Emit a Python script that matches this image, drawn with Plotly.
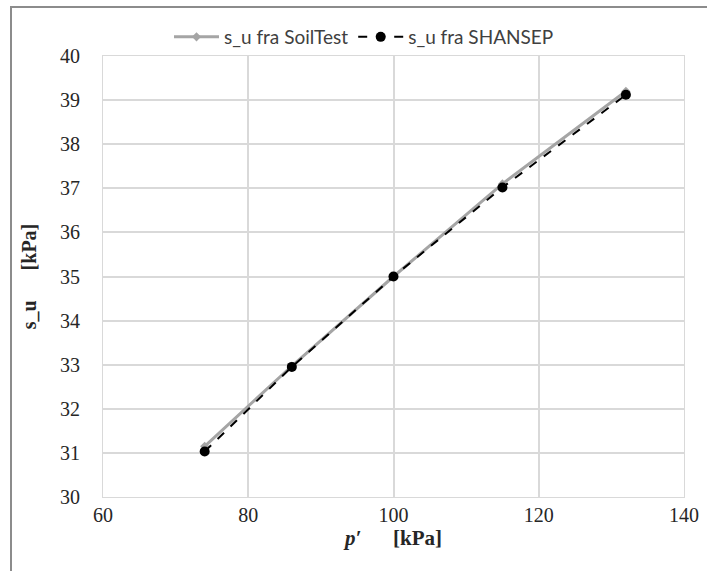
import plotly.graph_objects as go

p_prime = [74, 86, 100, 115, 132]
su_soiltest = [31.15, 32.97, 35.0, 37.1, 39.2]
su_shansep = [31.03, 32.95, 35.0, 37.02, 39.12]

x_ticks = [60, 80, 100, 120, 140]
y_ticks = list(range(30, 41))

fig = go.Figure()
fig.add_trace(go.Scatter(
    x=p_prime, y=su_soiltest, mode="lines+markers", name="s_u fra SoilTest",
    line=dict(color="#a5a5a5", width=3),
    marker=dict(symbol="diamond", size=7, color="#a5a5a5"),
))
fig.add_trace(go.Scatter(
    x=p_prime, y=su_shansep, mode="lines+markers", name="s_u fra SHANSEP",
    line=dict(color="black", width=2, dash="dash"),
    marker=dict(symbol="circle", size=10, color="black"),
))

L, R, T, B = 103, 23, 56, 74
W, H = 707, 571
pw = W - L - R
ph = H - T - B

fig.update_layout(
    width=W, height=H,
    margin=dict(l=L, r=R, t=T, b=B, autoexpand=False),
    paper_bgcolor="white", plot_bgcolor="white",
    showlegend=True,
    legend=dict(orientation="h", x=(364 - L) / pw, xanchor="center", y=1 + (T - 37) / ph, yanchor="middle",
                font=dict(family="Lato", size=19, color="#404040"),
                itemwidth=45, bgcolor="rgba(0,0,0,0)"),
    xaxis=dict(range=[60, 140], tickvals=x_ticks, showgrid=True, gridcolor="#d9d9d9", gridwidth=1.5,
               zeroline=False, showline=True, linecolor="#d9d9d9", mirror=True, ticks="",
               tickfont=dict(family="Liberation Serif", size=20, color="#262626"),
               title=dict(text="<b><i>p′</i>      [kPa]</b>", standoff=2,
                          font=dict(family="Liberation Serif", size=21, color="#262626"))),
    yaxis=dict(range=[30, 40], tickvals=y_ticks, showgrid=True, gridcolor="#d9d9d9", gridwidth=1.5,
               zeroline=False, showline=True, linecolor="#d9d9d9", mirror=True, ticks="",
               ticklabelstandoff=18,
               tickfont=dict(family="Liberation Serif", size=20, color="#262626"),
               title=dict(text="<b>s_u      [kPa]</b>", standoff=18,
                          font=dict(family="Liberation Serif", size=20, color="#262626"))),
    shapes=[dict(type="rect", xref="paper", yref="paper",
                 x0=(11 - L) / pw, x1=(W + 20 - L) / pw,
                 y0=-(H + 20 - T - ph) / ph, y1=1 + (T - 7) / ph,
                 line=dict(color="#8c8c8c", width=2), fillcolor="rgba(0,0,0,0)", layer="below")],
)

fig.write_html("out.html")
